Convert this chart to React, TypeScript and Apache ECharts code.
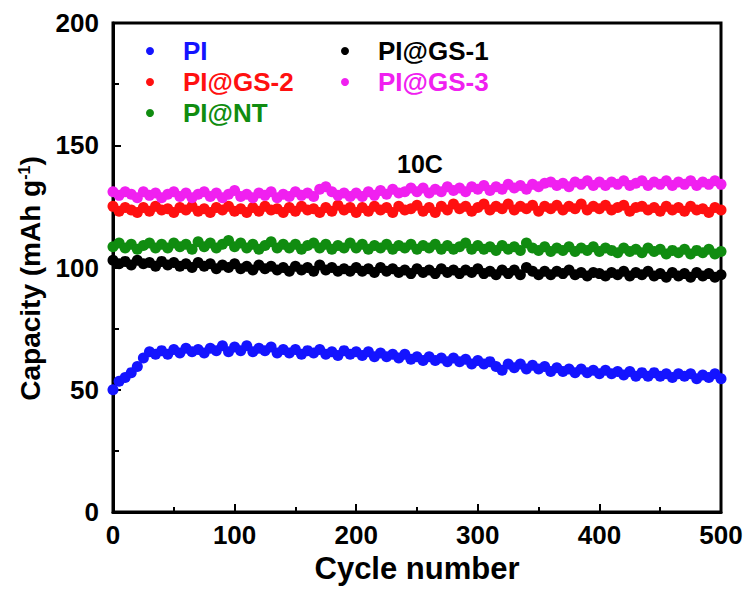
import React, { useEffect, useRef } from "react";
import * as echarts from "echarts";

const CYCLES = [
  0, 5, 10, 15, 20, 25, 30, 35, 40, 45, 50, 55, 60, 65, 70, 75, 80, 85, 90, 95,
  100, 105, 110, 115, 120, 125, 130, 135, 140, 145, 150, 155, 160, 165, 170, 175, 180, 185, 190, 195,
  200, 205, 210, 215, 220, 225, 230, 235, 240, 245, 250, 255, 260, 265, 270, 275, 280, 285, 290, 295,
  300, 305, 310, 315, 320, 325, 330, 335, 340, 345, 350, 355, 360, 365, 370, 375, 380, 385, 390, 395,
  400, 405, 410, 415, 420, 425, 430, 435, 440, 445, 450, 455, 460, 465, 470, 475, 480, 485, 490, 495, 500,
];

const PI = [
  50, 53.5, 55, 57, 59.5, 63, 65.5, 64.5, 66, 64.5,
  66.5, 65, 67, 65.5, 66.5, 65, 67, 66, 68, 65.5,
  67.5, 66, 68, 65.5, 67, 66, 67.5, 65, 66.5, 65,
  66.5, 64.5, 66, 65, 66.5, 64.5, 65.5, 64, 66, 64.5,
  65.5, 64, 65.5, 63.5, 65, 63.5, 64.5, 63, 64.5, 62.5,
  63.5, 62, 63.5, 62, 63, 61.5, 63, 61.5, 62.5, 60.5,
  62, 60.5, 61.5, 59.5, 58, 60.5, 59, 60.5, 58.5, 60,
  58.5, 59.5, 57.5, 59, 57.5, 58.5, 57, 58.5, 57, 58,
  56.5, 58, 56.5, 57.5, 56, 57.5, 55.5, 57, 55.5, 57,
  55.5, 56.5, 55, 56.5, 55.5, 56.5, 54.5, 56, 55, 56.5, 54.5,
];

const PI_GS1 = [
  103, 101.5, 102.5, 101, 103, 101.5, 102, 100.5, 102.5, 101,
  102, 100.5, 101.5, 100, 102, 100.5, 101.5, 99.5, 101, 100,
  101.5, 99.5, 100.5, 99, 101, 99.5, 100.5, 99, 100, 98.5,
  100.5, 99, 100, 98.5, 101, 99, 100, 98.5, 99.5, 98.5,
  100, 98.5, 99.5, 98, 100, 98.5, 99.5, 98, 99, 97.5,
  99.5, 98, 99, 97.5, 99.5, 98, 99, 97.5, 99, 98,
  99.5, 97.5, 98.5, 97, 99, 97.5, 99, 97, 100, 98.5,
  97, 98.5, 97, 98.5, 97.5, 99, 97, 98, 96.5, 98,
  97.5, 96.5, 98, 97, 98.5, 96.5, 98, 97, 98.5, 96.5,
  97.5, 96, 98, 96.5, 97.5, 96, 98, 96.5, 97.5, 96, 97,
];

const PI_GS2 = [
  125, 123, 124.5, 123.5, 122.5, 124.5, 123, 125, 123.5, 124,
  122.5, 124.5, 123.5, 125, 123, 124, 122.5, 124.5, 123.5, 125,
  123, 124, 122.5, 124.5, 123, 125, 123.5, 124, 122.5, 124.5,
  123, 125, 123.5, 124, 122.5, 124.5, 123, 125.5, 123.5, 124.5,
  122.5, 124.5, 123, 125, 123.5, 124.5, 122.5, 125, 123.5, 124,
  125.5, 123, 124.5, 122.5, 125, 123.5, 126, 124, 125, 123,
  124.5, 126, 123.5, 125, 124, 126, 123.5, 125, 124, 125.5,
  123, 125, 124, 125.5, 123.5, 125, 124, 126, 123.5, 125,
  124, 125.5, 123.5, 124.5, 125.5, 123, 124.5, 125, 123.5, 124.5,
  123, 125, 123.5, 124.5, 123, 125, 123.5, 124, 122.5, 124.5, 123.5,
];

const PI_GS3 = [
  131, 129.5, 131, 130, 128.5, 131, 129.5, 130.5, 128.5, 130,
  131, 129, 130.5, 128.5, 130, 131, 129, 130.5, 128.5, 130,
  131.5, 129, 130, 128.5, 130.5, 129.5, 131, 128.5, 130, 129,
  131, 129.5, 130.5, 129, 132, 133, 131, 129.5, 130.5, 129,
  130.5, 129, 131, 129.5, 131.5, 130, 132, 130.5, 131, 132.5,
  131, 132.5, 130.5, 132, 131, 133, 131.5, 132.5, 131, 133,
  132, 133.5, 131.5, 133, 132, 134, 132.5, 133.5, 132, 134,
  133, 134.5, 135, 133.5, 134.5, 133, 135, 134, 135.5, 133.5,
  135, 133.5, 135, 134, 135.5, 133.5, 134.5, 135.5, 133.5, 135,
  134, 135.5, 133.5, 135, 134, 135.5, 133.5, 135, 134, 135.5, 134,
];

const PI_NT = [
  108.5, 110, 108, 109.5, 107.5, 109, 110, 108, 109.5, 108,
  110, 108.5, 109.5, 107.5, 110.5, 108.5, 110, 108, 109.5, 111,
  108.5, 110, 108, 109.5, 107.5, 109, 110.5, 108, 109.5, 108,
  109.5, 107.5, 109, 110, 108, 109.5, 107.5, 109, 108, 110,
  108, 109.5, 107.5, 109, 108, 109.5, 107.5, 109, 108, 109.5,
  107.5, 109, 108, 109.5, 107.5, 109, 107.5, 108.5, 110, 107.5,
  109, 107.5, 108.5, 107, 109, 107.5, 108.5, 107, 110, 108,
  107, 108.5, 106.5, 108, 107, 108.5, 106.5, 108, 107, 108.5,
  106.5, 108, 107, 106, 108, 106.5, 107.5, 106, 108, 106.5,
  107.5, 105.5, 107, 106, 107.5, 105.5, 107, 106, 107.5, 105.5, 106.5,
];

const SERIES_NAMES = ["PI", "PI@GS-1", "PI@GS-2", "PI@GS-3", "PI@NT"];
const SERIES_VALUES = [PI, PI_GS1, PI_GS2, PI_GS3, PI_NT];
const SERIES_COLORS = ["#1414ff", "#000000", "#ff1010", "#f020f0", "#108c10"];
const LEGEND_COL1 = ["PI", "PI@GS-2", "PI@NT"];
const LEGEND_COL2 = ["PI@GS-1", "PI@GS-3"];

const X_TITLE = "Cycle number";
const RATE_LABEL = "10C";

const FONT = "'Liberation Sans', Arial, sans-serif";

export default function App() {
  const ref = useRef<HTMLDivElement>(null);
  useEffect(() => {
    if (!ref.current) return;
    const chart = echarts.init(ref.current, undefined, { renderer: "svg" });
    const colorOf = (n: string) => SERIES_COLORS[SERIES_NAMES.indexOf(n)];
    const legendBase = {
      orient: "vertical" as const,
      itemWidth: 56,
      itemHeight: 8,
      itemGap: 5,
      icon: "circle",
      textStyle: { fontFamily: FONT, fontWeight: "bold" as const, fontSize: 26 },
    };
    chart.setOption({
      animation: false,
      backgroundColor: "#ffffff",
      grid: {
        left: 113,
        right: 29,
        top: 23,
        bottom: 80,
        show: true,
        borderColor: "#000",
        borderWidth: 3,
        backgroundColor: "transparent",
      },
      legend: [
        {
          ...legendBase,
          left: 141,
          top: 33,
          data: LEGEND_COL1.map((n) => ({ name: n, textStyle: { color: colorOf(n) } })),
        },
        {
          ...legendBase,
          left: 336,
          top: 33,
          data: LEGEND_COL2.map((n) => ({ name: n, textStyle: { color: colorOf(n) } })),
        },
      ],
      xAxis: {
        type: "value",
        min: 0,
        max: 500,
        interval: 100,
        name: X_TITLE,
        nameLocation: "middle",
        nameGap: 37,
        nameTextStyle: { fontFamily: FONT, fontWeight: "bold", fontSize: 31, color: "#000" },
        axisLine: { show: true, lineStyle: { color: "#000", width: 3 } },
        axisTick: { show: true, inside: true, length: 8, lineStyle: { color: "#000", width: 2 } },
        minorTick: { show: true, splitNumber: 2, length: 5, lineStyle: { color: "#000", width: 2 } },
        splitLine: { show: false },
        axisLabel: { fontFamily: FONT, fontWeight: "bold", fontSize: 26, color: "#000", margin: 10 },
      },
      yAxis: {
        type: "value",
        min: 0,
        max: 200,
        interval: 50,
        name: "{a|Capacity (mAh g}{s|-1}{a|)}",
        nameLocation: "middle",
        nameGap: 66,
        nameRotate: 90,
        nameTextStyle: {
          padding: [0, 22, 0, 0],
          rich: {
            a: { fontFamily: FONT, fontWeight: "bold", fontSize: 28, color: "#000" },
            s: { fontFamily: FONT, fontWeight: "bold", fontSize: 16, color: "#000", verticalAlign: "top", padding: [0, 0, 13, 0] },
          },
        },
        axisLine: { show: true, lineStyle: { color: "#000", width: 3 } },
        axisTick: { show: true, inside: true, length: 8, lineStyle: { color: "#000", width: 2 } },
        minorTick: { show: true, splitNumber: 2, length: 6, lineStyle: { color: "#000", width: 2 } },
        splitLine: { show: false },
        axisLabel: { fontFamily: FONT, fontWeight: "bold", fontSize: 26, color: "#000", margin: 14 },
      },
      graphic: [
        {
          type: "text",
          left: 397,
          top: 151,
          style: { text: RATE_LABEL, fontFamily: FONT, fontWeight: "bold", fontSize: 25, fill: "#000" },
        },
      ],
      series: SERIES_NAMES.map((name, i) => ({
        name,
        type: "scatter",
        symbol: "circle",
        symbolSize: 11,
        itemStyle: { color: SERIES_COLORS[i], opacity: 1 },
        data: CYCLES.map((c, k) => [c, SERIES_VALUES[i][k]]),
        z: 2,
      })),
    });
    return () => chart.dispose();
  }, []);
  return (
    <div
      ref={ref}
      style={{ position: "fixed", left: 0, top: 0, width: 750, height: 592, background: "#fff" }}
    />
  );
}
